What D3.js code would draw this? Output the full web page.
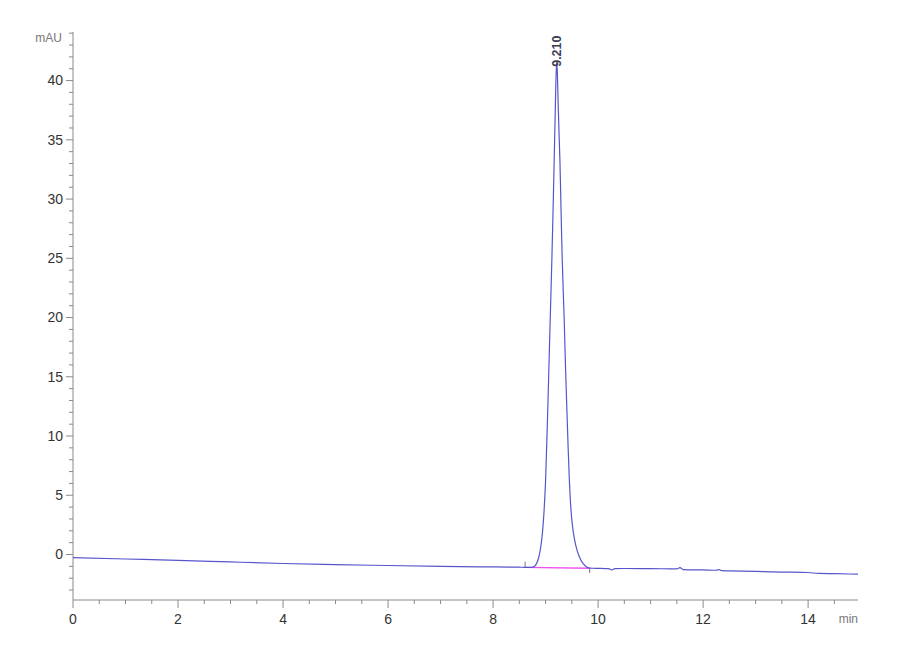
<!DOCTYPE html>
<html>
<head>
<meta charset="utf-8">
<script src="https://cdn.jsdelivr.net/npm/d3@7"></script>
<style>
  body { margin: 0; background: #fff; }
  svg { display: block; }
  .tick-label { font-family: "Liberation Sans Narrow", "Arial Narrow", "Liberation Sans", sans-serif; font-size: 14px; fill: #333; }
  .unit { font-family: "Liberation Sans Narrow", "Arial Narrow", sans-serif; font-size: 12px; fill: #777; }
  .peak-label { font-family: "Liberation Sans", Arial, sans-serif; font-size: 12.5px; font-weight: bold; fill: #3a3a58; }
</style>
</head>
<body>
<svg id="chart" width="900" height="660"></svg>
<script>
// retention time (min) and absorbance (mAU)
const times = [0, 1, 2, 3, 4, 5, 6, 7, 8, 8.5, 8.6, 8.7, 8.76, 8.81, 8.86, 8.9, 8.94, 8.97,
  9.0, 9.039, 9.06, 9.088, 9.12, 9.145, 9.164, 9.18, 9.195, 9.21, 9.225, 9.24, 9.256,
  9.273, 9.295, 9.317, 9.355, 9.38, 9.406, 9.43, 9.45, 9.48, 9.51, 9.55, 9.6, 9.66, 9.72,
  9.78, 9.84, 9.9, 10.0, 10.2, 10.26, 10.32, 10.5, 11.0, 11.5, 11.56, 11.62, 12.0, 12.25,
  12.3, 12.35, 12.5, 13, 13.5, 14, 14.2, 14.5, 14.95];
const mAU = [-0.27, -0.38, -0.49, -0.63, -0.76, -0.85, -0.93, -1.0, -1.05, -1.07, -1.08,
  -1.08, -1.06, -0.9, -0.4, 0.4, 1.8, 3.6, 6.2, 11.8, 15.2, 19.8, 24.9, 29.5, 33.3, 36.5,
  39.6, 41.5, 40.6, 38.0, 35.6, 33.3, 29.0, 24.9, 19.8, 15.8, 12.2, 9.0, 6.6, 4.0, 2.5,
  1.3, 0.35, -0.35, -0.8, -1.05, -1.14, -1.16, -1.17, -1.2, -1.3, -1.2, -1.18, -1.19,
  -1.22, -1.1, -1.27, -1.3, -1.33, -1.27, -1.36, -1.38, -1.43, -1.48, -1.52, -1.6, -1.62,
  -1.66];

// integration baseline of the peak and its start/end markers
const peakLabel = {t: 9.21, v: 41.5, text: '9.210'};
const integration = {start: [8.61, -1.09], end: [9.84, -1.16]};
const markers = [
  {t: 8.61, v1: -0.6, v2: -1.1},
  {t: 9.84, v1: -1.14, v2: -1.56}
];

const xTicks = [0, 2, 4, 6, 8, 10, 12, 14];
const yTicks = [0, 5, 10, 15, 20, 25, 30, 35, 40];

const svg = d3.select('#chart');
const x = d3.scaleLinear().domain([0, 14.95]).range([73, 858]);
const y = d3.scaleLinear().domain([-3.84, 44.1]).range([600, 32]);

const axisColor = '#8a8a8a';

// y axis
const yAxis = svg.append('g').attr('transform', `translate(${x(0)},0)`);
yAxis.append('line')
  .attr('x1', 0).attr('x2', 0).attr('y1', y(44.1)).attr('y2', y(-3.84))
  .attr('stroke', axisColor);
yAxis.selectAll('.minor')
  .data(d3.range(-3, 45).filter((v) => v % 5 !== 0))
  .join('line')
  .attr('x1', -4).attr('x2', 0)
  .attr('y1', (v) => y(v)).attr('y2', (v) => y(v))
  .attr('stroke', axisColor);
yAxis.selectAll('.major')
  .data(yTicks)
  .join('line')
  .attr('x1', -7).attr('x2', 0)
  .attr('y1', (v) => y(v)).attr('y2', (v) => y(v))
  .attr('stroke', axisColor);
yAxis.selectAll('text')
  .data(yTicks)
  .join('text')
  .classed('tick-label', true)
  .attr('x', -10).attr('y', (v) => y(v))
  .attr('dy', '0.35em')
  .attr('text-anchor', 'end')
  .text((v) => v);
svg.append('text').classed('unit', true)
  .attr('x', 62).attr('y', 42).attr('text-anchor', 'end').text('mAU');

// x axis
const xAxis = svg.append('g').attr('transform', `translate(0,${y(-3.84)})`);
xAxis.append('line')
  .attr('x1', x(0)).attr('x2', x(14.95)).attr('y1', 0).attr('y2', 0)
  .attr('stroke', axisColor);
xAxis.selectAll('.minor')
  .data(d3.range(0.5, 15, 0.5).filter((t) => t % 2 !== 0))
  .join('line')
  .attr('x1', (t) => x(t)).attr('x2', (t) => x(t))
  .attr('y1', 0).attr('y2', 4)
  .attr('stroke', axisColor);
xAxis.selectAll('.major')
  .data(xTicks)
  .join('line')
  .attr('x1', (t) => x(t)).attr('x2', (t) => x(t))
  .attr('y1', 0).attr('y2', 8)
  .attr('stroke', axisColor);
xAxis.selectAll('text')
  .data(xTicks)
  .join('text')
  .classed('tick-label', true)
  .attr('x', (t) => x(t)).attr('y', 24)
  .attr('text-anchor', 'middle')
  .text((t) => t);
svg.append('text').classed('unit', true)
  .attr('x', 858).attr('y', 623).attr('text-anchor', 'end').text('min');

// integration baseline
svg.append('line')
  .attr('x1', x(integration.start[0])).attr('y1', y(integration.start[1]))
  .attr('x2', x(integration.end[0])).attr('y2', y(integration.end[1]))
  .attr('stroke', '#f050f0').attr('stroke-width', 1.3);
svg.selectAll('.marker')
  .data(markers)
  .join('line')
  .attr('x1', (m) => x(m.t)).attr('x2', (m) => x(m.t))
  .attr('y1', (m) => y(m.v1)).attr('y2', (m) => y(m.v2))
  .attr('stroke', '#555').attr('stroke-width', 0.8);

// trace
const line = d3.line()
  .x((d) => x(d[0]))
  .y((d) => y(d[1]))
  .curve(d3.curveMonotoneX);
svg.append('path')
  .datum(times.map((t, i) => [t, mAU[i]]))
  .attr('d', line)
  .attr('fill', 'none')
  .attr('stroke', '#5656cc')
  .attr('stroke-width', 1.2);

// peak retention time label
svg.append('text').classed('peak-label', true)
  .attr('transform', `translate(${x(peakLabel.t) + 4.5},${y(peakLabel.v) + 4}) rotate(-90)`)
  .attr('text-anchor', 'start')
  .text(peakLabel.text);
</script>
</body>
</html>
